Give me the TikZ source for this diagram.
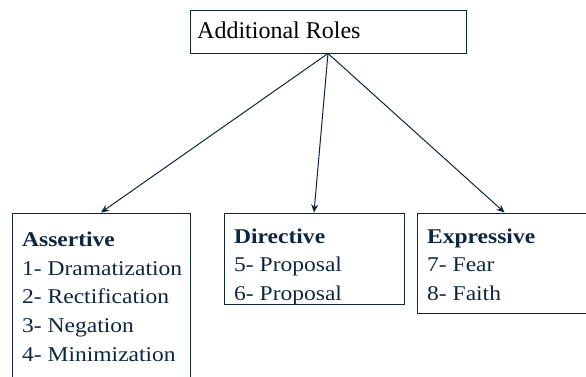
\documentclass[tikz,border=0pt]{standalone}
\usepackage{fontspec}
\setmainfont{LiberationSerif}[Extension=.ttf, UprightFont=*-Regular, BoldFont=*-Bold]
\newfontfamily\widefont{LiberationSerif}[Extension=.ttf, UprightFont=*-Regular, BoldFont=*-Bold, FakeStretch=1.12]
\usetikzlibrary{arrows.meta}
\definecolor{navy}{RGB}{12,38,66}
\begin{document}
\begin{tikzpicture}[x=1pt,y=1pt,
  box/.style={draw=navy, line width=1pt, rectangle, inner sep=0pt},
  title/.style={anchor=base west, inner sep=0pt, text=black, font=\fontsize{24}{28}\selectfont},
  head/.style={anchor=base west, inner sep=0pt, text=navy, font=\widefont\fontsize{21}{25}\selectfont\bfseries},
  item/.style={anchor=base west, inner sep=0pt, text=navy, font=\widefont\fontsize{21}{25}\selectfont},
  link/.style={draw=navy, line width=1pt, -{Stealth[length=8pt,width=7pt]}}]
\useasboundingbox (0,0) rectangle (586,376);
\clip (0,0) rectangle (586,376);

% boxes
\node[box, minimum width=276pt, minimum height=43pt] (roles) at (328,344.5) {};
\node[box, minimum width=178pt, minimum height=173pt] (assert) at (101,76.5) {};
\node[box, minimum width=180pt, minimum height=91pt] (direct) at (314,117.5) {};
\node[box, minimum width=175pt, minimum height=100pt] (express) at (504.5,113) {};

% connectors
\draw[link] (roles.south) -- (assert.north);
\draw[link] (roles.south) -- (direct.north);
\draw[link] (roles.south) -- (express.north);

% texts
\node[title] (t0) at (197,337.3) {Additional Roles};

\node[head] (a0) at (22,129.3) {Assertive};
\node[item] (a1) at (22,101) {1- Dramatization};
\node[item] (a2) at (22,72.3) {2- Rectification};
\node[item] (a3) at (22,43.7) {3- Negation};
\node[item] (a4) at (22,15) {4- Minimization};

\node[head] (d0) at (234,132.7) {Directive};
\node[item] (d1) at (234,104.3) {5- Proposal};
\node[item] (d2) at (234,76) {6- Proposal};

\node[head] (e0) at (427,132.7) {Expressive};
\node[item] (e1) at (427,104.3) {7- Fear};
\node[item] (e2) at (427,76) {8- Faith};
\end{tikzpicture}
\end{document}
